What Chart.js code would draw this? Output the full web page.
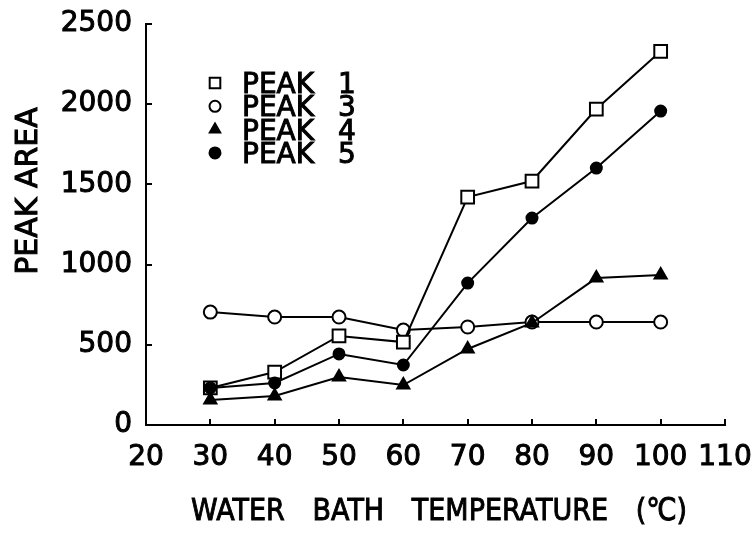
<!DOCTYPE html>
<html>
<head>
<meta charset="utf-8">
<script src="https://cdn.jsdelivr.net/npm/chart.js@4/dist/chart.umd.min.js"></script>
<style>
  html, body { margin: 0; padding: 0; background: #fff; }
  #wrap { width: 756px; height: 533px; }
</style>
</head>
<body>
<div id="wrap"><canvas id="c" width="756" height="533"></canvas></div>
<script>
// ---- data ----
const temperatures = [30, 40, 50, 60, 70, 80, 90, 100];
const peak1 = [231, 330, 555, 517, 1421, 1521, 1970, 2330];
const peak3 = [704, 673, 673, 592, 611, 642, 642, 642];
const peak4 = [156, 181, 299, 249, 474, 636, 916, 935];
const peak5 = [231, 262, 443, 374, 885, 1290, 1602, 1957];
const seriesLabels = ['PEAK 1', 'PEAK 3', 'PEAK 4', 'PEAK 5'];
const xTitle = 'WATER BATH TEMPERATURE (\u2103)';
const yTitle = 'PEAK AREA';
const xMin = 20, xMax = 110, xStep = 10;
const yMin = 0, yMax = 2500, yStep = 500;

const FONT = 'DejaVu Sans';
const toXY = (vals) => temperatures.map((t, i) => ({ x: t, y: vals[i] }));

const styles = [
  { pointStyle: 'rect', radius: 9, fill: '#fff', legendR: 7.5, order: 2 },
  { pointStyle: 'circle', radius: 6.5, fill: '#fff', legendR: 5.5, order: 3 },
  { pointStyle: 'triangle', radius: 7, fill: '#000', legendR: 6, order: 1 },
  { pointStyle: 'circle', radius: 5.5, fill: '#000', legendR: 5.5, order: 0 }
];
const seriesData = [peak1, peak3, peak4, peak5];

const datasets = seriesData.map((vals, i) => ({
  label: seriesLabels[i],
  data: toXY(vals),
  order: styles[i].order,
  borderColor: '#000',
  borderWidth: 2,
  pointStyle: styles[i].pointStyle,
  pointRadius: styles[i].radius,
  pointBackgroundColor: styles[i].fill,
  pointBorderColor: '#000',
  pointBorderWidth: 2,
  tension: 0,
  fill: false
}));

function drawMarker(ctx, style, x, y, r, fillColor) {
  ctx.save();
  ctx.lineWidth = 2;
  ctx.strokeStyle = '#000';
  ctx.fillStyle = fillColor;
  ctx.beginPath();
  if (style === 'rect') {
    const s = r * Math.SQRT1_2;
    ctx.rect(x - s, y - s, 2 * s, 2 * s);
  } else if (style === 'triangle') {
    let a = 0;
    ctx.moveTo(x + Math.sin(a) * r, y - Math.cos(a) * r);
    a += 2 * Math.PI / 3;
    ctx.lineTo(x + Math.sin(a) * r, y - Math.cos(a) * r);
    a += 2 * Math.PI / 3;
    ctx.lineTo(x + Math.sin(a) * r, y - Math.cos(a) * r);
    ctx.closePath();
  } else {
    ctx.arc(x, y, r, 0, Math.PI * 2);
  }
  ctx.fill();
  ctx.stroke();
  ctx.restore();
}

function boldText(ctx, text, x, y) {
  ctx.lineWidth = 1;
  ctx.strokeStyle = '#000';
  ctx.strokeText(text, x, y);
  ctx.fillText(text, x, y);
}

const decorPlugin = {
  id: 'decor',
  afterDraw(chart) {
    const ctx = chart.ctx;
    const xs = chart.scales.x, ys = chart.scales.y;
    const area = chart.chartArea;
    ctx.save();
    // inward tick marks
    ctx.strokeStyle = '#000';
    ctx.lineWidth = 2;
    ctx.beginPath();
    xs.ticks.forEach(t => {
      const px = Math.round(xs.getPixelForValue(t.value));
      ctx.moveTo(px, area.bottom);
      ctx.lineTo(px, area.bottom - 6);
    });
    ys.ticks.forEach(t => {
      const py = Math.round(ys.getPixelForValue(t.value));
      ctx.moveTo(area.left, py);
      ctx.lineTo(area.left + 6, py);
    });
    ctx.stroke();

    // legend inside plot
    ctx.fillStyle = '#000';
    ctx.font = '28px "' + FONT + '"';
    ctx.textBaseline = 'alphabetic';
    chart.data.datasets.forEach((ds, i) => {
      const cy = 83 + i * 23.3;
      drawMarker(ctx, styles[i].pointStyle, 215, cy, styles[i].legendR, styles[i].fill);
      const parts = ds.label.split(' ');
      ctx.textAlign = 'left';
      boldText(ctx, parts[0], 242, cy + 10);
      ctx.textAlign = 'center';
      boldText(ctx, parts[1], 347, cy + 10);
    });

    // y axis title
    ctx.save();
    ctx.translate(37, 191);
    ctx.rotate(-Math.PI / 2);
    ctx.font = '30px "' + FONT + '"';
    ctx.textAlign = 'center';
    ctx.textBaseline = 'alphabetic';
    boldText(ctx, yTitle, 0, 0);
    ctx.restore();

    // x axis title (condensed lettering)
    ctx.save();
    ctx.translate(439, 520);
    ctx.scale(0.87, 1);
    ctx.font = '31px "' + FONT + '"';
    try { ctx.wordSpacing = '22px'; } catch (e) {}
    ctx.textAlign = 'center';
    ctx.textBaseline = 'alphabetic';
    boldText(ctx, xTitle, 0, 0);
    ctx.restore();

    ctx.restore();
  }
};

new Chart(document.getElementById('c'), {
  type: 'line',
  data: { datasets },
  options: {
    responsive: false,
    animation: false,
    devicePixelRatio: 1,
    layout: { padding: { top: 24, right: 31, bottom: 0, left: 0 } },
    plugins: { legend: { display: false }, tooltip: { enabled: false } },
    scales: {
      x: {
        type: 'linear',
        min: xMin, max: xMax,
        afterFit(scale) { scale.height = 108; scale.paddingLeft = 0; scale.paddingRight = 0; },
        ticks: {
          stepSize: xStep,
          color: '#000',
          padding: 8,
          maxRotation: 0,
          autoSkip: false,
          textStrokeColor: '#000',
          textStrokeWidth: 1,
          callback: (v) => String(v),
          font: { family: FONT, size: 28 }
        },
        grid: { display: false },
        border: { display: true, color: '#000', width: 2 }
      },
      y: {
        type: 'linear',
        min: yMin, max: yMax,
        afterFit(scale) { scale.width = 146; scale.paddingTop = 0; scale.paddingBottom = 0; },
        ticks: {
          stepSize: yStep,
          color: '#000',
          padding: 6,
          textStrokeColor: '#000',
          textStrokeWidth: 1,
          callback: (v) => String(v),
          font: { family: FONT, size: 28 }
        },
        grid: { display: false },
        border: { display: true, color: '#000', width: 2 }
      }
    }
  },
  plugins: [decorPlugin]
});
</script>
</body>
</html>
